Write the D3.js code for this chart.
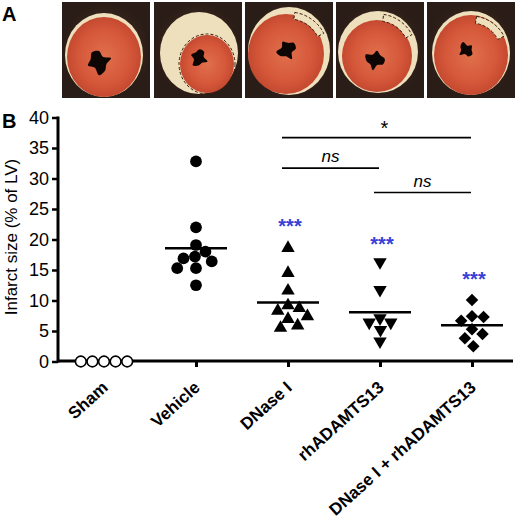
<!DOCTYPE html>
<html>
<head>
<meta charset="utf-8">
<script src="https://cdn.jsdelivr.net/npm/d3@7"></script>
<style>
  body { margin: 0; background: #fff; }
  svg { display: block; font-family: "Liberation Sans", Arial, sans-serif; }
</style>
</head>
<body>
<div id="contenedor"></div>
<script>
// DATOS
groups = ["Sham", "Vehicle", "DNase I", "rhADAMTS13", "DNase I + rhADAMTS13"]
sham = [0, 0, 0, 0, 0]
vehicle = [32.8, 22.0, 19.1, 18.0, 16.9, 17.2, 16.4, 15.3, 15.3, 12.5]
dnase = [18.6, 14.5, 11.6, 8.75, 8.3, 9.2, 6.95, 7.4, 5.5, 5.9]
rhadamts = [16.3, 11.75, 6.4, 6.4, 7.1, 5.2, 3.3]
combo = [10.1, 7.4, 6.7, 7.3, 5.3, 4.5, 3.8, 2.5]
yTicks = [0, 5, 10, 15, 20, 25, 30, 35, 40]
// estrellas azules (vs Vehicle): grupo, altura en % LV
starGroups = ["DNase I", "rhADAMTS13", "DNase I + rhADAMTS13"]
starLevels = [22.9, 19.9, 14.1]
// comparaciones: desde, hasta, texto, altura en % LV
compFrom = ["DNase I", "DNase I", "rhADAMTS13"]
compTo = ["DNase I + rhADAMTS13", "rhADAMTS13", "DNase I + rhADAMTS13"]
compLabel = ["*", "ns", "ns"]
compLevel = [36.7, 31.7, 27.7]

series = [sham, vehicle, dnase, rhadamts, combo]
markers = ["openCircle", "circle", "triangle", "triangleDown", "diamond"]

ancho = 520
alto = 527

svg = d3.select("#contenedor")
    .append("svg")
    .attr("width", ancho)
    .attr("height", alto)

// ---------- Panel A (fotos, dibujo aproximado) ----------
svg.append("text").attr("x", 2).attr("y", 21)
    .attr("font-size", 20).attr("font-weight", "bold").text("A")

defs = svg.append("defs")
grad = defs.append("radialGradient").attr("id", "rojo")
grad.append("stop").attr("offset", "0%").attr("stop-color", "#e0704c")
grad.append("stop").attr("offset", "70%").attr("stop-color", "#d5573a")
grad.append("stop").attr("offset", "100%").attr("stop-color", "#c4492f")
fondo = defs.append("radialGradient").attr("id", "fondo")
fondo.append("stop").attr("offset", "0%").attr("stop-color", "#4a3529")
fondo.append("stop").attr("offset", "100%").attr("stop-color", "#2a1c16")

slices = [
  {x0: 62, cx: 104, cy: 55, crx: 39, cry: 42, rcx: 104, rcy: 57, rrx: 37, rry: 40, lx: 99, ly: 62, lr: 11, dash: null},
  {x0: 154, cx: 199, cy: 53, crx: 39, cry: 41, rcx: 207, rcy: 64, rrx: 27, rry: 29, lx: 199, ly: 58, lr: 8, dash: "red"},
  {x0: 245, cx: 289, cy: 51, crx: 41, cry: 44, rcx: 286, rcy: 54, rrx: 38, rry: 40, lx: 287, ly: 50, lr: 9, dash: "top"},
  {x0: 336, cx: 378, cy: 52, crx: 40, cry: 41, rcx: 377, rcy: 56, rrx: 35, rry: 36, lx: 375, ly: 60, lr: 9, dash: "top"},
  {x0: 427, cx: 471, cy: 53, crx: 39, cry: 42, rcx: 471, rcy: 55, rrx: 37, rry: 40, lx: 466, ly: 50, lr: 7, dash: "top"}
]

lumen = d3.lineRadial().curve(d3.curveCatmullRomClosed)
lumenR = [1, 0.6, 1.15, 0.7, 0.95, 1.2, 0.65, 1.05, 0.8, 1.1]

slices.forEach(function(s, i) {
    g = svg.append("g")
    g.append("rect").attr("x", s.x0).attr("y", 2).attr("width", 88).attr("height", 96)
        .attr("fill", "url(#fondo)")
    g.append("ellipse").attr("cx", s.cx).attr("cy", s.cy).attr("rx", s.crx).attr("ry", s.cry)
        .attr("fill", "#eedfbd")
    g.append("ellipse").attr("cx", s.rcx).attr("cy", s.rcy).attr("rx", s.rrx).attr("ry", s.rry)
        .attr("fill", "url(#rojo)")
    g.append("path")
        .attr("transform", "translate(" + s.lx + "," + s.ly + ") rotate(" + (i * 40) + ")")
        .attr("d", lumen(lumenR.map(function(r, k) { return [k / lumenR.length * 2 * Math.PI, r * s.lr] })))
        .attr("fill", "#0d0604")
    if (s.dash == "red") {
        g.append("ellipse").attr("cx", s.rcx).attr("cy", s.rcy).attr("rx", s.rrx + 1).attr("ry", s.rry + 1)
            .attr("fill", "none").attr("stroke", "#3a1d10").attr("stroke-width", 1).attr("stroke-dasharray", "3,2")
    } else if (s.dash == "top") {
        g.append("path")
            .attr("d", d3.arc().innerRadius(s.crx - 9).outerRadius(s.crx - 2).startAngle(0.15).endAngle(1.1)())
            .attr("transform", "translate(" + s.cx + "," + s.cy + ")")
            .attr("fill", "#eedfbd").attr("stroke", "#3a1d10").attr("stroke-width", 1).attr("stroke-dasharray", "3,2")
    }
})

// ---------- Panel B ----------
svg.append("text").attr("x", 2).attr("y", 128)
    .attr("font-size", 20).attr("font-weight", "bold").text("B")

//ESCALAS
escalaY = d3.scaleLinear().domain([0, 40]).range([361.5, 117.5])
escalaX = d3.scalePoint().domain(groups).range([104, 472])

ejeY = d3.axisLeft(escalaY).tickValues(yTicks).tickSize(6).tickSizeOuter(0).tickPadding(3)
gy = svg.append("g").attr("transform", "translate(58,0)").call(ejeY)
gy.select(".domain").attr("stroke-width", 3).attr("d", "M0,116.5V362.5")
gy.selectAll(".tick line").attr("stroke-width", 2.5)
gy.selectAll(".tick text").attr("font-size", 18).attr("fill", "#000")
    .attr("font-family", "Liberation Sans, Arial, sans-serif")

ejeX = d3.axisBottom(escalaX).tickSize(6).tickSizeOuter(0).tickFormat("")
gx = svg.append("g").attr("transform", "translate(0,361)").call(ejeX)
gx.select(".domain").attr("stroke-width", 3).attr("d", "M57,0H513")
gx.selectAll(".tick line").attr("stroke-width", 3)

svg.append("g").selectAll("text")
    .data(groups)
    .enter()
    .append("text")
    .attr("transform", function(d) { return "translate(" + (escalaX(d) + 5) + ",389) rotate(-42)" })
    .attr("text-anchor", "end")
    .attr("font-size", 17)
    .attr("font-weight", "bold")
    .text(function(d) { return d })

svg.append("text")
    .attr("transform", "translate(17,237) rotate(-90)")
    .attr("text-anchor", "middle")
    .attr("font-size", 17)
    .text("Infarct size (% of LV)")

// reparto horizontal de los puntos (tipo enjambre)
function enjambre(valores, diam) {
    colocados = []
    salida = []
    orden = valores.map(function(v, i) { return i }).sort(function(a, b) { return valores[b] - valores[a] })
    orden.forEach(function(i) {
        py = escalaY(valores[i])
        bloqueos = colocados.filter(function(p) { return Math.abs(p.py - py) < diam })
            .map(function(p) {
                w = Math.sqrt(diam * diam - (p.py - py) * (p.py - py))
                return [p.dx - w, p.dx + w]
            })
        candidatos = [0].concat(d3.merge(bloqueos))
            .sort(function(a, b) { return Math.abs(a) - Math.abs(b) || b - a })
        dx = candidatos.find(function(c) {
            return bloqueos.every(function(b) { return c <= b[0] + 1e-6 || c >= b[1] - 1e-6 })
        })
        colocados.push({py: py, dx: dx})
        salida[i] = dx
    })
    return salida
}

simbolo = {
    circle: d3.symbol(d3.symbolCircle, 108)(),
    openCircle: d3.symbol(d3.symbolCircle, 90)(),
    triangle: d3.symbol(d3.symbolTriangle, 78)(),
    triangleDown: d3.symbol(d3.symbolTriangle, 78)(),
    diamond: d3.symbol(d3.symbolSquare, 78)()
}
giro = {circle: 0, openCircle: 0, triangle: 0, triangleDown: 180, diamond: 45}

series.forEach(function(vals, gi) {
    grupo = groups[gi]
    m = markers[gi]
    offs = enjambre(vals, 11.6)
    puntos = vals.map(function(v, i) { return {v: v, dx: offs[i]} })

    svg.append("g").selectAll("path")
        .data(puntos)
        .enter()
        .append("path")
        .attr("d", simbolo[m])
        .attr("transform", function(d) {
            return "translate(" + (escalaX(grupo) + d.dx) + "," + escalaY(d.v) + ") rotate(" + giro[m] + ")"
        })
        .attr("fill", m == "openCircle" ? "#fff" : "#000")
        .attr("stroke", "#000")
        .attr("stroke-width", m == "openCircle" ? 1.6 : 0)

    if (gi > 0) {
        media = d3.mean(vals)
        svg.append("line")
            .attr("x1", escalaX(grupo) - 31).attr("x2", escalaX(grupo) + 31)
            .attr("y1", escalaY(media)).attr("y2", escalaY(media))
            .attr("stroke", "#000").attr("stroke-width", 2.5)
    }
})

// estrellas azules
svg.append("g").selectAll("text")
    .data(starGroups)
    .enter()
    .append("text")
    .attr("x", function(d) { return escalaX(d) + 2 })
    .attr("y", function(d, i) { return escalaY(starLevels[i]) + 11 })
    .attr("text-anchor", "middle")
    .attr("font-size", 20)
    .attr("font-weight", "bold")
    .attr("fill", "#3540d8")
    .text("***")

// comparaciones
compFrom.forEach(function(f, i) {
    x1 = escalaX(f) - 6
    x2 = escalaX(compTo[i]) - 1
    yy = escalaY(compLevel[i])
    svg.append("line").attr("x1", x1).attr("x2", x2).attr("y1", yy).attr("y2", yy)
        .attr("stroke", "#000").attr("stroke-width", 1.6)
    svg.append("text")
        .attr("x", (x1 + x2) / 2 + (compLabel[i] == "*" ? 8 : 0))
        .attr("y", compLabel[i] == "*" ? yy - 3 : yy - 6)
        .attr("text-anchor", "middle")
        .attr("font-size", compLabel[i] == "*" ? 20 : 17)
        .attr("font-style", compLabel[i] == "*" ? "normal" : "italic")
        .text(compLabel[i])
})
</script>
</body>
</html>
